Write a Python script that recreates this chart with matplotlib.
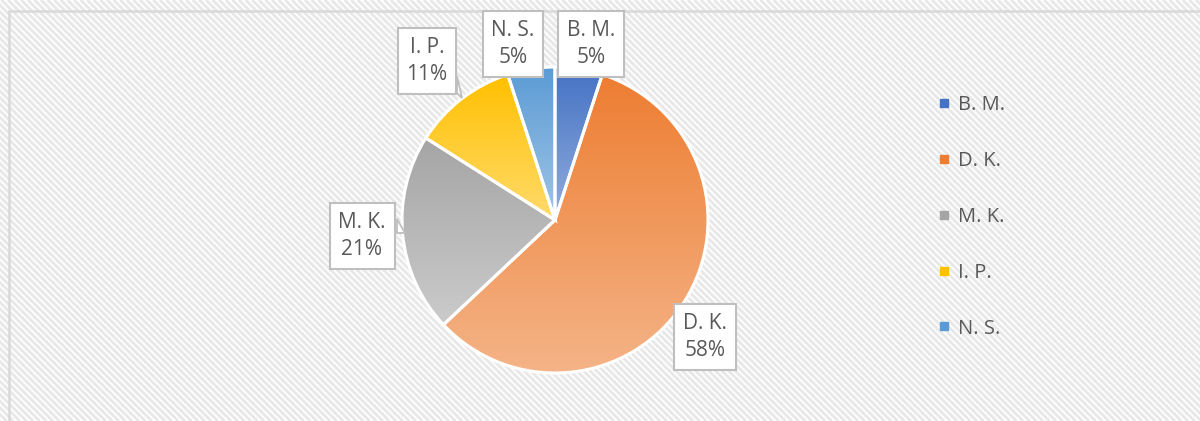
import numpy as np
import matplotlib
matplotlib.use("Agg")
import matplotlib.pyplot as plt
from matplotlib.patches import Rectangle, Polygon
from matplotlib.collections import LineCollection
from matplotlib.lines import Line2D
from matplotlib.colors import to_rgb

# Daten
names = ["B. M.", "D. K.", "M. K.", "I. P.", "N. S."]
shares = [5, 58, 21, 11, 5]
colors = ["#4472C4", "#ED7D31", "#A5A5A5", "#FFC000", "#5B9BD5"]

# Positionen der Beschriftungen (Pixel, y von oben)
label_pos = [(591, 44), (705, 337), (362, 236), (427, 61), (513, 44)]

W, H = 1200, 421
plt.rcParams['font.family'] = ['Open Sans', 'DejaVu Sans']
text_col = "#595959"
box_ec = "#BFBFBF"

fig = plt.figure(figsize=(W / 100, H / 100), dpi=100)
ax = fig.add_axes([0, 0, 1, 1])

# Hintergrund mit diagonalen Streifen
area = Rectangle((9, -10), W + 20, H - 11 + 10, facecolor='white', edgecolor='none', zorder=0)
ax.add_patch(area)
period = 6.6
segs = [[(x0, H), (x0 + H, 0)] for x0 in np.arange(-H, W + 10, period)]
stripes = LineCollection(segs, colors='#E8E8E8', linewidths=2.1, zorder=0.5)
stripes.set_clip_path(area)
ax.add_collection(stripes)
ax.add_patch(Rectangle((9, -10), W + 20, H - 11 + 10, facecolor='none',
                       edgecolor='#D9D9D9', lw=1.8, zorder=1))

# Kreisdiagramm
cx, cy, r = 555, H - 220, 153
wedges, _ = ax.pie(shares, colors=colors, startangle=90, counterclock=False,
                   center=(cx, cy), radius=r, frame=True,
                   wedgeprops=dict(edgecolor='white', linewidth=2.2))

for w, c in zip(wedges, colors):
    base = np.array(to_rgb(c))
    light = base + (1 - base) * 0.42
    ext = w.get_path().get_extents()
    t = np.linspace(0, 1, 200)[:, None, None]
    grad = base * (1 - t) + light * t
    im = ax.imshow(grad, extent=(ext.x0, ext.x1, ext.y0, ext.y1), origin='upper',
                   aspect='auto', zorder=2, interpolation='bilinear')
    im.set_clip_path(w)
    w.set_facecolor('none')
    w.set_zorder(3)

ax.set_xlim(0, W)
ax.set_ylim(0, H)
ax.set_aspect('equal')
ax.axis('off')

# Datenbeschriftungen
for name, val, (px, py) in zip(names, shares, label_pos):
    ax.text(px, H - py, f"{name}\n{val}%", ha='center', va='center', fontsize=15,
            color=text_col, linespacing=1.35, zorder=5,
            bbox=dict(boxstyle='square,pad=0.42', fc='white', ec=box_ec, lw=1.5))

# kleine Zeiger der Beschriftungsfelder (M. K. und I. P.)
for pts in ([(397, 219), (405, 233), (397, 233)], [(457, 76), (462, 98), (457, 93)]):
    ax.add_patch(Polygon([(x, H - y) for x, y in pts], closed=True, fc='white',
                         ec=box_ec, lw=1.3, zorder=4.9))

# Legende
handles = [Line2D([], [], marker='s', ls='', color=c, markersize=5.5) for c in colors]
ax.legend(handles, names, loc='upper left', bbox_to_anchor=(918 / W, 1 - 77 / H),
          frameon=False, fontsize=14.5, labelcolor=text_col, labelspacing=1.78,
          handlelength=0.8, handletextpad=0.3)

fig.savefig("out.png", dpi=100)
